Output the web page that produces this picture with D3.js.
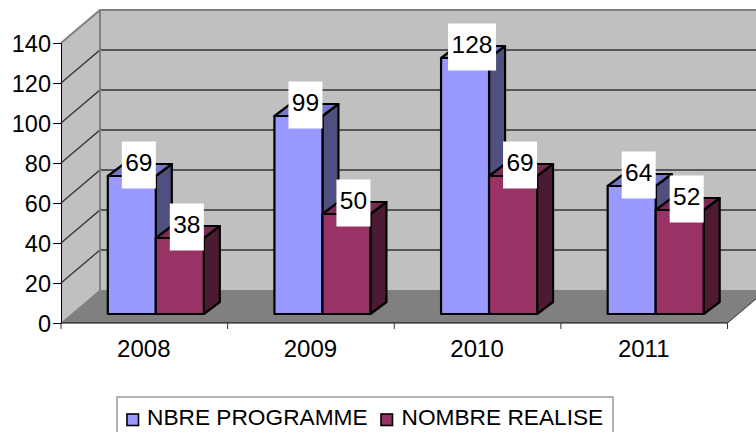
<!DOCTYPE html>
<html><head><meta charset="utf-8">
<script src="https://cdn.jsdelivr.net/npm/d3@7/dist/d3.min.js"></script>
<style>html,body{margin:0;padding:0;background:#fff}svg{display:block}text{font-family:"Liberation Sans",Arial,sans-serif;fill:#000}</style>
</head><body><svg id="c" width="756" height="432"></svg>
<script>
const categories = ["2008","2009","2010","2011"];
const seriesNames = ["NBRE PROGRAMME","NOMBRE REALISE"];
const programme = [69,99,128,64];
const realise = [38,50,69,52];
const yTicks = [0,20,40,60,80,100,120,140];

const svg = d3.select("#c");
const x = d3.scaleBand().domain(categories).range([61,727.5]);
const y = d3.scaleLinear().domain([0,140]).range([323,43]);
const dx = 39, dy = -33;          // wall depth
const barShift = 11.5, barLift = -9, bdx = 16, bdy = -12;  // bar position in depth
const barW = 48;
const colors = [
 {front:"#9999ff", side:"#505080", top:"#7777c8"},
 {front:"#993366", side:"#4d1a33", top:"#7a2952"}
];
const pts = a => a.map(p=>p.join(",")).join(" ");
const x0 = x.range()[0], x1 = x.range()[1], y0 = y(0), yT = y(140);

// walls and floor
svg.append("polygon").attr("points",pts([[x0,y0],[x0,yT],[x0+dx,yT+dy],[x0+dx,y0+dy]])).attr("fill","#c0c0c0");
svg.append("rect").attr("x",x0+dx).attr("y",yT+dy).attr("width",x1-x0).attr("height",y0-yT).attr("fill","#c0c0c0");
svg.append("polygon").attr("points",pts([[x0,y0],[x0+dx,y0+dy],[x1+dx,y0+dy],[x1,y0]])).attr("fill","#808080");

// grid
yTicks.filter(t=>t>0).forEach(t=>{
  const top = t===140;
  svg.append("polyline").attr("fill","none").attr("stroke",top?"#808080":"#333").attr("stroke-width",top?2:1.3)
    .attr("points",pts([[x0,y(t)],[x0+dx,y(t)+dy],[x1+dx,y(t)+dy]]));
});
svg.append("line").attr("x1",x0+dx).attr("x2",x0+dx).attr("y1",yT+dy).attr("y2",y0+dy).attr("stroke","#808080").attr("stroke-width",2);
svg.append("line").attr("x1",x0).attr("x2",x0+dx).attr("y1",y0).attr("y2",y0+dy).attr("stroke","#808080").attr("stroke-width",1);
svg.append("line").attr("x1",x1).attr("x2",x1+dx).attr("y1",y0).attr("y2",y0+dy).attr("stroke","#333").attr("stroke-width",1);

// axes
const yAxis = d3.axisLeft(y).tickValues(yTicks).tickSize(8).tickPadding(2);
const gy = svg.append("g").attr("transform",`translate(${x0},0)`).call(yAxis);
gy.selectAll("text").attr("font-size",23.5).attr("dy","0.37em");
const xEdges = categories.map(c=>x(c)).concat([x1]);
svg.append("line").attr("x1",x0).attr("x2",x1).attr("y1",y0).attr("y2",y0).attr("stroke","#000").attr("stroke-width",1.2);
svg.selectAll(".xt").data(xEdges).join("line").attr("x1",d=>d).attr("x2",d=>d).attr("y1",y0).attr("y2",y0+6).attr("stroke","#333");
svg.selectAll(".xl").data(categories).join("text").attr("x",c=>x(c)+x.bandwidth()/2-0.5).attr("y",357)
  .attr("text-anchor","middle").attr("font-size",24).text(c=>c);

// bars
const base = y(0)+barLift;
const h = v => y(0)-y(v);
categories.forEach((c,i)=>{
  const mid = x(c)+x.bandwidth()/2+barShift;
  [programme[i],realise[i]].forEach((v,s)=>{
    const l = mid-barW+s*barW, r = l+barW, t = base-h(v);
    const col = colors[s];
    const g = svg.append("g").attr("stroke","#000").attr("stroke-width",2.2).attr("stroke-linejoin","round");
    g.append("polygon").attr("points",pts([[r,base],[r+bdx,base+bdy],[r+bdx,t+bdy],[r,t]])).attr("fill",col.side);
    g.append("polygon").attr("points",pts([[l,t],[l+bdx,t+bdy],[r+bdx,t+bdy],[r,t]])).attr("fill",col.top);
    g.append("rect").attr("x",l).attr("y",t).attr("width",barW).attr("height",base-t).attr("fill",col.front);
  });
});
// data labels
categories.forEach((c,i)=>{
  const mid = x(c)+x.bandwidth()/2+barShift;
  [programme[i],realise[i]].forEach((v,s)=>{
    const cx = mid+s*barW-17, cy = base-h(v)-11;
    const w = String(v).length>2 ? 48 : 34;
    svg.append("rect").attr("x",cx-w/2).attr("y",cy-23.5).attr("width",w).attr("height",47).attr("fill","#fff");
    svg.append("text").attr("x",cx).attr("y",cy+5.5).attr("text-anchor","middle").attr("font-size",24.5).text(v);
  });
});

// legend
svg.append("rect").attr("x",117).attr("y",397).attr("width",496).attr("height",50).attr("fill","#fff").attr("stroke","#808080").attr("stroke-width",1.2);
const lg = [{sx:127,tx:147},{sx:381,tx:401.5}];
lg.forEach((p,i)=>{
  svg.append("rect").attr("x",p.sx).attr("y",414).attr("width",11.5).attr("height",11.5).attr("fill",colors[i].front).attr("stroke","#000").attr("stroke-width",1.6);
  svg.append("text").attr("x",p.tx).attr("y",425).attr("font-size",22.7).text(seriesNames[i]);
});
</script></body></html>
